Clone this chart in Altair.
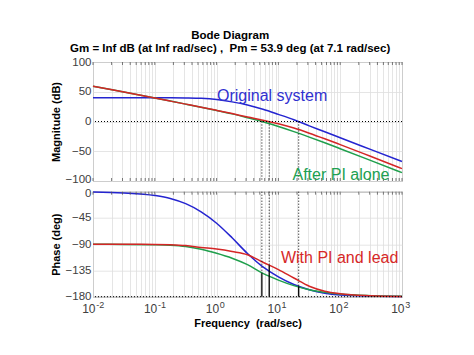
import altair as alt
import pandas as pd

FONT = "Liberation Sans"

# ---------------- data ----------------
freq = [0.01, 0.0316, 0.1, 0.178, 0.316, 0.562, 1.0, 1.78, 3.16, 5.62,
        10.0, 17.8, 31.6, 56.2, 100.0, 316.0, 1000.0]

mag_original = [40, 40, 40, 39.9, 39.6, 38.9, 36.9, 33.0, 27.7, 20.6,
                12.0, 3.0, -7.3, -17.2, -27.3, -47.3, -67.3]
mag_pi = [59.4, 49.4, 39.4, 34.3, 29.2, 24.0, 18.6, 12.8, 6.3, -0.5,
          -8.4, -17.0, -26.2, -35.8, -45.7, -65.8, -86.0]
mag_pi_lead = [59.4, 49.4, 39.4, 34.3, 29.2, 24.05, 18.75, 13.27, 7.5, 2.24,
               -3.82, -11.07, -19.65, -29.02, -38.85, -58.93, -79.13]

phase_original = [-0.7, -2.2, -6.5, -11.5, -20.5, -34.5, -54.0, -79.0, -106.0, -129.0,
                  -146.0, -159.0, -168.0, -174.0, -177.0, -179.0, -179.7]
phase_pi = [-90.2, -90.3, -90.8, -91.6, -93.8, -98.5, -105.5, -114.0, -125.0, -140.0,
            -151.5, -161.0, -168.0, -172.5, -175.5, -178.3, -179.4]
phase_pi_lead = [-90.2, -90.2, -90.3, -90.8, -92.3, -95.5, -98.3, -102.5, -108.0, -121.0,
                 -133.5, -148.0, -162.0, -170.5, -174.8, -178.2, -179.5]

series_names = ["Original system", "After PI alone", "With PI and lead"]
series_colors = ["#2424d0", "#1f9f4c", "#d42626"]

# crossover frequencies (0 dB) and phase at crossover
cross_freq = [5.4, 7.1, 21.3]
cross_phase = [-140.0, -126.1, -162.0]

# annotations
ann_mag_text = ["Original system", "After PI alone"]
ann_mag_x = [1.015, 16.9]
ann_mag_y = [34.0, -97.6]
ann_mag_color = ["#3030d0", "#20a050"]
ann_ph_text = ["With PI and lead"]
ann_ph_x = [11.0]
ann_ph_y = [-122.0]

decades = [0.01, 0.1, 1, 10, 100, 1000]
decade_exp = ["-2", "-1", "0", "1", "2", "3"]
minor_ticks = [m * 10.0 ** e for e in range(-2, 3) for m in range(1, 10)] + [1000.0]

mag_ticks = [-100, -50, 0, 50, 100]
phase_ticks = [-180, -135, -90, -45, 0]

title_main = "Bode Diagram"
title_sub = "Gm = Inf dB (at Inf rad/sec) ,\u00a0 Pm = 53.9 deg (at 7.1 rad/sec)"

W = 309
H_MAG = 119
H_PH = 105

# ---------------- tables ----------------
rows = []
for name, m, p in zip(series_names, [mag_original, mag_pi, mag_pi_lead],
                      [phase_original, phase_pi, phase_pi_lead]):
    for f, mv, pv in zip(freq, m, p):
        rows.append({"freq": f, "mag": mv, "phase": pv, "series": name})
curves = pd.DataFrame(rows)
cross = pd.DataFrame({"freq": cross_freq, "phase": cross_phase,
                      "zero": [0.0] * 3, "magbot": [-100.0] * 3, "phbot": [-180.0] * 3})
href_mag = pd.DataFrame({"v": [0.0]})
href_ph = pd.DataFrame({"v": [-180.0]})
ticks_df = pd.DataFrame({"freq": minor_ticks})
dec_df = pd.DataFrame({"freq": decades, "exp": decade_exp, "base": ["10"] * 6})
ann_mag = pd.DataFrame({"freq": ann_mag_x, "val": ann_mag_y, "text": ann_mag_text, "col": ann_mag_color})
ann_ph = pd.DataFrame({"freq": ann_ph_x, "val": ann_ph_y, "text": ann_ph_text})

xscale = alt.Scale(type="log", domain=[0.01, 1000], nice=False)
color_scale = alt.Scale(domain=series_names, range=series_colors)
ymag = alt.Scale(domain=[-100, 100], nice=False)
yph = alt.Scale(domain=[-180, 0], nice=False)


def x_axis(title):
    return alt.Axis(values=minor_ticks, labels=False, ticks=False, domain=False,
                    grid=True, title=title, titleFont=FONT, titleFontSize=11,
                    titleFontWeight="bold", titleColor="black", titlePadding=21)


def y_axis(values, title, edge_test, edge_offset):
    return alt.Axis(values=values, grid=True, ticks=False, domain=False,
                    labelFont=FONT, labelFontSize=11.5, labelColor="#404040", labelPadding=2,
                    labelOverlap=False,
                    labelOffset={"condition": {"test": edge_test, "value": edge_offset}, "value": 0},
                    title=title, titleFont=FONT, titleFontSize=11, titleFontWeight="bold",
                    titleColor="black", titlePadding=4)


XA_MAG = x_axis("")
XA_PH = x_axis("Frequency\u00a0 (rad/sec)")
YA_MAG = y_axis(mag_ticks, "Magnitude (dB)", "datum.value <= -100", -1.5)
YA_PH = y_axis(phase_ticks, "Phase (deg)", "datum.value >= 0", 1.5)


def xm(field="freq:Q"):
    return alt.X(field, scale=xscale, axis=XA_MAG)


def xp(field="freq:Q"):
    return alt.X(field, scale=xscale, axis=XA_PH)


def ym(field):
    return alt.Y(field, scale=ymag, axis=YA_MAG)


def yp(field):
    return alt.Y(field, scale=yph, axis=YA_PH)


# ---------------- magnitude panel ----------------
mag_lines = alt.Chart(curves).mark_line(strokeWidth=1.5, interpolate="monotone").encode(
    x=xm(), y=ym("mag:Q"),
    color=alt.Color("series:N", scale=color_scale, legend=None),
    order=alt.Order("freq:Q"),
    detail="series:N",
)
mag_zero = alt.Chart(href_mag).mark_rule(color="black", strokeDash=[1, 2], strokeWidth=1).encode(
    y=ym("v:Q"))
mag_vert = alt.Chart(cross).mark_rule(color="black", strokeDash=[1, 2], strokeWidth=1).encode(
    x=xm(), y=ym("zero:Q"), y2="magbot:Q")
mag_text = alt.Chart(ann_mag).mark_text(font=FONT, fontSize=16, align="left", baseline="alphabetic").encode(
    x=xm(), y=ym("val:Q"), text="text:N",
    color=alt.Color("col:N", scale=None))
mag_top = alt.Chart(ticks_df).mark_rule(color="#555", strokeWidth=0.8).encode(
    x=xm(), y=alt.value(0), y2=alt.value(3))
mag_bot = alt.Chart(ticks_df).mark_rule(color="#555", strokeWidth=0.8).encode(
    x=xm(), y=alt.value(H_MAG - 3), y2=alt.value(H_MAG))

mag = alt.layer(mag_lines, mag_vert, mag_zero, mag_top, mag_bot, mag_text).properties(
    width=W, height=H_MAG)

# ---------------- phase panel ----------------
ph_lines = alt.Chart(curves).mark_line(strokeWidth=1.5, interpolate="monotone").encode(
    x=xp(), y=yp("phase:Q"),
    color=alt.Color("series:N", scale=color_scale, legend=None),
    order=alt.Order("freq:Q"),
    detail="series:N",
)
ph_m180 = alt.Chart(href_ph).mark_rule(color="black", strokeDash=[1, 2], strokeWidth=1).encode(
    y=yp("v:Q"))
ph_vert_dot = alt.Chart(cross).mark_rule(color="black", strokeDash=[1, 2], strokeWidth=1).encode(
    x=xp(), y=yp("zero:Q"), y2="phase:Q")
ph_vert_solid = alt.Chart(cross).mark_rule(color="black", strokeWidth=1.3).encode(
    x=xp(), y=yp("phase:Q"), y2="phbot:Q")
ph_text = alt.Chart(ann_ph).mark_text(font=FONT, fontSize=16, align="left", baseline="alphabetic",
                                      color="#d62828").encode(
    x=xp(), y=yp("val:Q"), text="text:N")
ph_top = alt.Chart(ticks_df).mark_rule(color="#555", strokeWidth=0.8).encode(
    x=xp(), y=alt.value(0), y2=alt.value(3))
lab10 = alt.Chart(dec_df).mark_text(font=FONT, fontSize=12, align="right", baseline="alphabetic",
                                    color="#404040", dx=2.5).encode(
    x=xp(), y=alt.value(H_PH + 16.6), text="base:N")
labexp = alt.Chart(dec_df).mark_text(font=FONT, fontSize=9, align="left", baseline="alphabetic",
                                     color="#404040", dx=3.2).encode(
    x=xp(), y=alt.value(H_PH + 11.3), text="exp:N")

phase = alt.layer(ph_lines, ph_vert_dot, ph_vert_solid, ph_m180, ph_top, ph_text, lab10, labexp).properties(
    width=W, height=H_PH)

chart = alt.vconcat(mag, phase, spacing=10.7, bounds="flush").properties(
    title=alt.TitleParams(title_main, subtitle=[title_sub], font=FONT, subtitleFont=FONT,
                          fontSize=11.5, subtitleFontSize=11.5, fontWeight="bold",
                          subtitleFontWeight="bold", color="black", subtitleColor="black",
                          anchor="middle", offset=1.5, subtitlePadding=1.5),
    padding={"left": 41, "top": 21, "right": 5, "bottom": 5},
).configure_view(stroke="#8a8a8a", strokeWidth=1).configure_axis(
    gridColor="#dedede", gridWidth=0.8)

chart.save("out.html", embed_options={"renderer": "svg", "actions": False})
